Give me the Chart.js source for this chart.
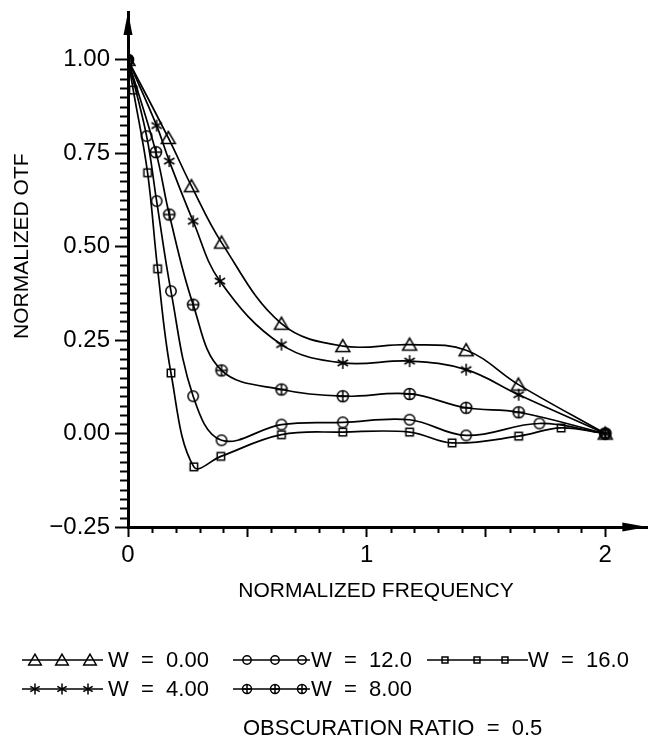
<!DOCTYPE html>
<html><head><meta charset="utf-8">
<script src="https://cdn.jsdelivr.net/npm/chart.js@4"></script>
<style>
html,body{margin:0;padding:0;background:#fff;}
#wrap{position:relative;width:655px;height:743px;overflow:hidden;background:#fff;}
#c{position:absolute;left:0;top:0;}
.lg{position:absolute;font-family:"Liberation Sans",Arial,sans-serif;font-size:22px;color:#000;white-space:pre;line-height:24px;}
canvas.s{position:absolute;}
</style></head><body>
<div id="wrap"><canvas id="c" width="655" height="743"></canvas></div>
<script>
// ---------- data ----------
const seriesLabels = ['W = 0.00', 'W = 4.00', 'W = 8.00', 'W = 12.0', 'W = 16.0'];
const w0X  = [0, 0.169, 0.266, 0.392, 0.643, 0.9, 1.18, 1.417, 1.636, 2.0];
const w0Y  = [1.0, 0.791, 0.662, 0.511, 0.294, 0.234, 0.238, 0.223, 0.131, 0.0];
const w4X  = [0, 0.12, 0.173, 0.273, 0.385, 0.643, 0.9, 1.18, 1.417, 1.637, 2.0];
const w4Y  = [1.0, 0.824, 0.729, 0.568, 0.408, 0.238, 0.189, 0.194, 0.171, 0.104, 0.0];
const w8X  = [0, 0.117, 0.173, 0.273, 0.392, 0.643, 0.9, 1.18, 1.417, 1.637, 2.0];
const w8Y  = [1.0, 0.753, 0.586, 0.345, 0.169, 0.118, 0.1, 0.106, 0.069, 0.057, 0.0];
const w12X = [0, 0.078, 0.12, 0.18, 0.273, 0.392, 0.643, 0.9, 1.18, 1.417, 1.724, 2.0];
const w12Y = [1.0, 0.796, 0.622, 0.381, 0.1, -0.018, 0.024, 0.03, 0.037, -0.005, 0.027, 0.0];
const w16X = [0, 0.022, 0.082, 0.124, 0.18, 0.276, 0.389, 0.643, 0.9, 1.18, 1.358, 1.637, 1.815, 2.0];
const w16Y = [1.0, 0.919, 0.698, 0.441, 0.162, -0.089, -0.061, -0.003, 0.004, 0.004, -0.025, -0.007, 0.015, 0.0];
const xTickValues = [0, 1, 2];
const yTickValues = [-0.25, 0, 0.25, 0.5, 0.75, 1.0];
const noteText = 'OBSCURATION RATIO = 0.5';
const xTitle = 'NORMALIZED FREQUENCY';
const yTitle = 'NORMALIZED OTF';

// ---------- markers ----------
function drawMarker(ctx, type, x, y, s) {
  ctx.save();
  ctx.strokeStyle = '#000'; ctx.lineWidth = 1.5; ctx.beginPath();
  if (type === 'tri') {
    ctx.moveTo(x, y - 6.5*s); ctx.lineTo(x - 7*s, y + 5.5*s); ctx.lineTo(x + 7*s, y + 5.5*s); ctx.closePath();
  } else if (type === 'circ') {
    ctx.arc(x, y, 5.2*s, 0, Math.PI*2);
  } else if (type === 'ocross') {
    ctx.arc(x, y, 5.6*s, 0, Math.PI*2);
    ctx.moveTo(x - 5.6*s, y); ctx.lineTo(x + 5.6*s, y);
    ctx.moveTo(x, y - 5.6*s); ctx.lineTo(x, y + 5.6*s);
  } else if (type === 'sq') {
    ctx.rect(x - 3.7*s, y - 3.7*s, 7.4*s, 7.4*s);
  } else if (type === 'star') {
    const r = 6*s;
    for (let k = 0; k < 3; k++) {
      const a = Math.PI/2 + k*Math.PI/3;
      ctx.moveTo(x + r*Math.cos(a), y + r*Math.sin(a));
      ctx.lineTo(x - r*Math.cos(a), y - r*Math.sin(a));
    }
  }
  ctx.stroke();
  ctx.restore();
}
function markerCanvas(type) {
  const c = document.createElement('canvas'); c.width = 18; c.height = 18;
  drawMarker(c.getContext('2d'), type, 9, 9, 1);
  return c;
}
const markerTypes = ['tri', 'star', 'ocross', 'circ', 'sq'];
const xsAll = [w0X, w4X, w8X, w12X, w16X];
const ysAll = [w0Y, w4Y, w8Y, w12Y, w16Y];

const datasets = seriesLabels.map((lab, i) => ({
  label: lab,
  data: xsAll[i].map((x, j) => ({x: x, y: ysAll[i][j]})),
  showLine: true,
  borderColor: '#000',
  borderWidth: 1.7,
  backgroundColor: 'transparent',
  tension: 0.38,
  pointStyle: markerCanvas(markerTypes[i]),
  pointRadius: 6,
  pointHoverRadius: 6
}));

const FONT_T = {family: '"Liberation Sans", Arial, sans-serif', size: 21};
const FONT_K = {family: '"Liberation Sans", Arial, sans-serif', size: 24};

const extras = {
  id: 'extras',
  afterDraw(chart) {
    const ctx = chart.ctx, xs = chart.scales.x, ys = chart.scales.y, ca = chart.chartArea;
    ctx.save();
    ctx.strokeStyle = '#000'; ctx.fillStyle = '#000'; ctx.lineWidth = 2;
    // minor y ticks
    for (let i = -10; i <= 40; i++) {
      if (i % 10 === 0) continue;
      const py = Math.round(ys.getPixelForValue(i * 0.025)) + 0.5;
      ctx.beginPath(); ctx.moveTo(ca.left - 8, py); ctx.lineTo(ca.left, py); ctx.stroke();
    }
    // minor x ticks
    for (let i = 0; i <= 20; i++) {
      if (i % 5 === 0) continue;
      const px = Math.round(xs.getPixelForValue(i * 0.1)) + 0.5;
      ctx.beginPath(); ctx.moveTo(px, ca.bottom); ctx.lineTo(px, ca.bottom + 6); ctx.stroke();
    }
    // arrow heads
    const ax = ca.left;
    ctx.beginPath(); ctx.moveTo(ax, ca.top); ctx.lineTo(ax - 4.5, ca.top + 23); ctx.lineTo(ax + 4.5, ca.top + 23); ctx.closePath(); ctx.fill();
    const ay = ca.bottom;
    ctx.beginPath(); ctx.moveTo(ca.right, ay); ctx.lineTo(ca.right - 25, ay - 4.5); ctx.lineTo(ca.right - 25, ay + 4.5); ctx.closePath(); ctx.fill();
    ctx.restore();
  }
};

Chart.defaults.color = '#000';
new Chart(document.getElementById('c'), {
  type: 'scatter',
  data: {datasets: datasets},
  options: {
    responsive: false,
    animation: false,
    devicePixelRatio: 1,
    layout: {padding: {left: 0, top: 12, right: 7, bottom: 136}},
    plugins: {legend: {display: false}, tooltip: {enabled: false}},
    scales: {
      x: {
        type: 'linear', min: 0, max: 2.176,
        border: {display: true, color: '#000', width: 3},
        grid: {display: true, drawOnChartArea: false, drawTicks: true, tickLength: 10, tickWidth: 2, tickColor: '#000'},
        ticks: {
          stepSize: 0.5, includeBounds: false, autoSkip: false, maxRotation: 0, padding: 4, font: FONT_K, color: '#000',
          callback: (v) => { const k = xTickValues.find(t => Math.abs(t - v) < 1e-9); return k === undefined ? '' : String(k); }
        },
        // trailing spaces shift the centred title left to sit where the reference has it
        title: {display: true, text: xTitle + '    ', font: FONT_T, color: '#000', padding: {top: 0, bottom: 3}},
        afterFit: (s) => { s.height = 80; s.paddingLeft = 0; s.paddingRight = 0; }
      },
      y: {
        type: 'linear', min: -0.25, max: 1.128,
        border: {display: true, color: '#000', width: 3},
        grid: {display: true, drawOnChartArea: false, drawTicks: true, tickLength: 13, tickWidth: 2, tickColor: '#000'},
        ticks: {
          stepSize: 0.25, includeBounds: false, autoSkip: false, padding: 5, font: FONT_K, color: '#000',
          callback: (v) => { const k = yTickValues.find(t => Math.abs(t - v) < 1e-9); return k === undefined ? '' : k.toFixed(2).replace('-', '\u2212'); }
        },
        // leading spaces shift the rotated title upward, as in the reference
        title: {display: true, text: '        ' + yTitle, font: FONT_T, color: '#000', padding: {top: 10, bottom: 0}},
        afterFit: (s) => { s.width = 128; s.paddingTop = 0; s.paddingBottom = 0; }
      }
    }
  },
  plugins: [extras]
});

// ---------- legend (HTML text + drawn samples) ----------
const wrap = document.getElementById('wrap');
const legendItems = [
  {series: 0, left: 22, right: 103, marks: [35, 62, 90], textX: 108, cy: 660},
  {series: 3, left: 233, right: 310, marks: [247, 275, 302], textX: 311, cy: 660},
  {series: 4, left: 427, right: 528, marks: [445, 477, 505], textX: 528, cy: 660},
  {series: 1, left: 22, right: 103, marks: [35, 62, 88], textX: 108, cy: 689},
  {series: 2, left: 233, right: 310, marks: [247, 275, 302], textX: 311, cy: 689}
];
legendItems.forEach(it => {
  const c = document.createElement('canvas');
  c.className = 's';
  c.width = it.right - it.left; c.height = 20;
  c.style.left = it.left + 'px'; c.style.top = (it.cy - 10) + 'px';
  const g = c.getContext('2d');
  g.strokeStyle = '#000'; g.lineWidth = 1.5;
  g.beginPath(); g.moveTo(0, 10); g.lineTo(c.width, 10); g.stroke();
  const t = markerTypes[it.series];
  const sc = (t === 'circ' || t === 'sq' || t === 'ocross') ? 0.8 : 0.9;
  it.marks.forEach(m => drawMarker(g, t, m - it.left, 10, sc));
  wrap.appendChild(c);
  const d = document.createElement('div');
  d.className = 'lg';
  d.style.left = it.textX + 'px'; d.style.top = (it.cy - 12) + 'px';
  d.textContent = seriesLabels[it.series].replace(/ = /, '  =  ');
  wrap.appendChild(d);
});
const note = document.createElement('div');
note.className = 'lg';
note.style.left = '243px'; note.style.top = '716px';
note.textContent = noteText.replace(/ = /, '  =  ');
wrap.appendChild(note);
</script>
</body></html>
